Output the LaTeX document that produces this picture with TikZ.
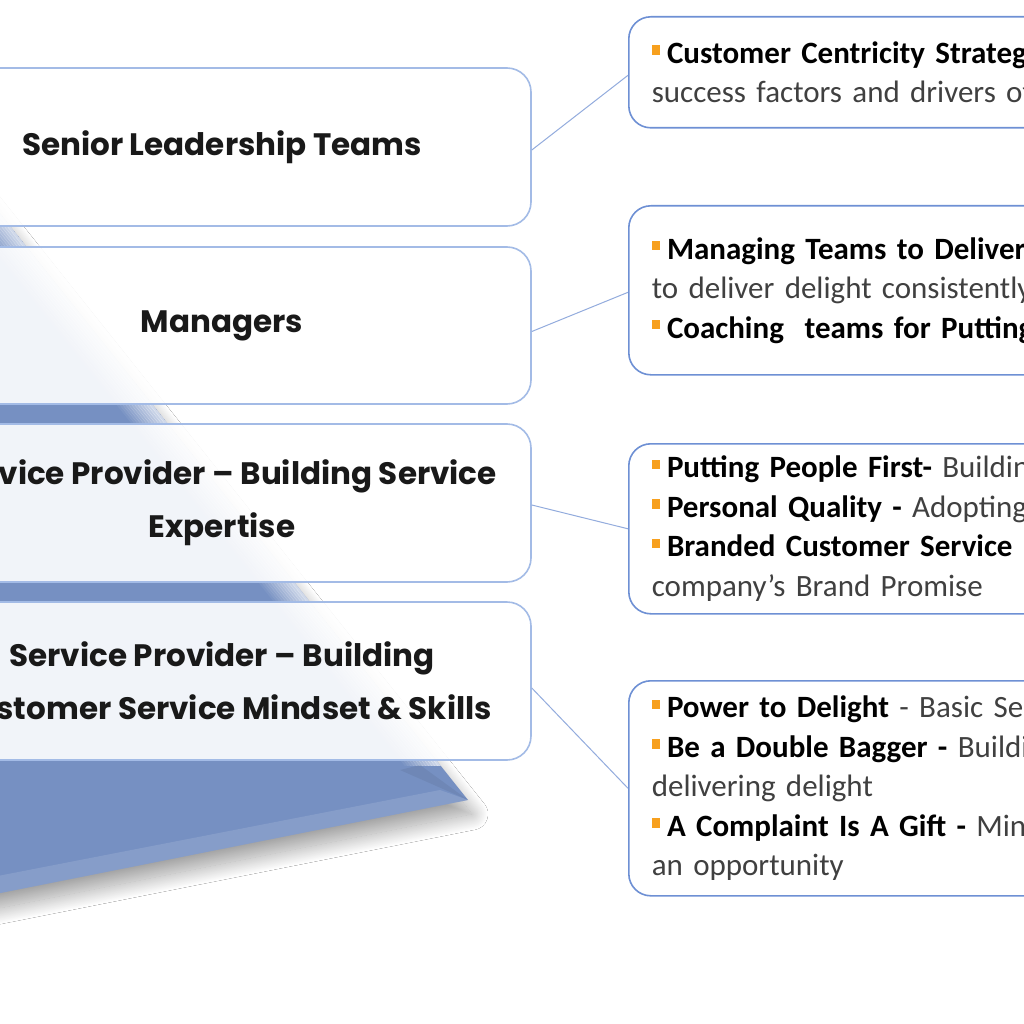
\documentclass[tikz,border=0pt]{standalone}
\usepackage{fontspec}
\setmainfont{Carlito}
\newfontfamily\popfont{Poppins}
\usetikzlibrary{shadows.blur,calc}
\definecolor{pyrblue}{HTML}{7690C2}
\definecolor{lborder}{HTML}{A3BBE6}
\definecolor{rborder}{HTML}{6E90D4}
\definecolor{connc}{HTML}{93ACDD}
\definecolor{bulorange}{HTML}{F7A01E}
\definecolor{greytext}{HTML}{404040}
\newcommand\bul{\textcolor{bulorange}{\rule[0.28em]{0.27em}{0.3em}}\hspace{0.22em}}
\newcommand\bt[1]{\textcolor{black}{\bfseries #1}}
\begin{document}
\begin{tikzpicture}[x=1pt,y=-1pt,
 lbox/.style={draw=lborder, line width=1.6pt, rounded corners=24pt, fill=white, fill opacity=0.9, text opacity=1,
   minimum width=618pt, minimum height=158pt, align=center,
   font=\popfont\bfseries\fontsize{31}{53}\selectfont, text=black!90},
 rbox/.style={draw=rborder, line width=1.6pt, rounded corners=22pt, fill=white, anchor=north west,
   text width=520pt, inner xsep=23pt, align=left, font=\fontsize{31}{39.5}\selectfont, text=greytext},
 connector/.style={draw=connc, line width=1pt}]
\useasboundingbox (0,0) rectangle (1024,1024);
\clip (0,0) rectangle (1024,1024);
\fill[white] (0,0) rectangle (1024,1024);
% pyramid
\path[fill=pyrblue, blur shadow={shadow xshift=4pt, shadow yshift=-14pt, shadow blur radius=16pt, shadow blur steps=40, shadow opacity=38}]
  (-144,33) -- (468,800) -- (-100,913) -- (-300,913) -- cycle;
\begin{scope}
\clip (-144,33) -- (468,800) -- (-100,913) -- (-300,913) -- cycle;
\clip (-300,0) rectangle (600,765);
\foreach \i in {0,...,11}{
  \pgfmathsetmacro\da{\i*3}
  \pgfmathsetmacro\db{\i*3+3.3}
  \pgfmathsetmacro\op{0.65*(1-\i/12)}
  \fill[white, fill opacity=\op] (-144-\da,33) -- (588-\da,950) -- (588-\db,950) -- (-144-\db,33) -- cycle;
}
\end{scope}
% lighter strip along the bottom edge and darker facet near the corner
\fill[white, fill opacity=0.12] (468,800) -- (-100,913) -- (-100,895) -- (440,790) -- cycle;
\fill[black, fill opacity=0.06] (468,800) -- (420,765) -- (400,770) -- cycle;
% left boxes
\node[lbox] (l1) at (222,147) {Senior Leadership Teams};
\node[lbox, minimum height=157pt] (l2) at (222,325.5) {Managers};
\node[lbox] (l3) at (222,503) {Service Provider – Building Service\\Expertise};
\node[lbox] (l4) at (222,681) {Service Provider – Building\\Customer Service Mindset \& Skills};
% right boxes
\node[rbox, minimum height=111pt] (r1) at (628,16) {\bul\bt{Customer Centricity Strategy}\\success factors and drivers of};
\node[rbox, minimum height=169pt] (r2) at (628,205) {\bul\bt{Managing Teams to Deliver}\\to deliver delight consistently\\\bul\bt{Coaching\ \ teams for Putting}};
\node[rbox, minimum height=170pt] (r3) at (628,443) {\bul\bt{Putting People First-} Building\\\bul\bt{Personal Quality -} Adopting\\\bul\bt{Branded Customer Service}\\company’s Brand Promise};
\node[rbox, minimum height=215pt] (r4) at (628,680) {\bul\bt{Power to Delight} - Basic Service\\\bul\bt{Be a Double Bagger -} Building\\delivering delight\\\bul\bt{A Complaint Is A Gift -} Mindset\\an opportunity};
% connectors
\draw[connector] ([yshift=-3pt]l1.east) -- ([yshift=-3pt]r1.west);
\draw[connector] ([yshift=-6pt]l2.east) -- ([yshift=-2pt]r2.west);
\draw[connector] ([yshift=-2pt]l3.east) -- (r3.west);
\draw[connector] ([yshift=-7pt]l4.east) -- (r4.west);
\end{tikzpicture}
\end{document}
